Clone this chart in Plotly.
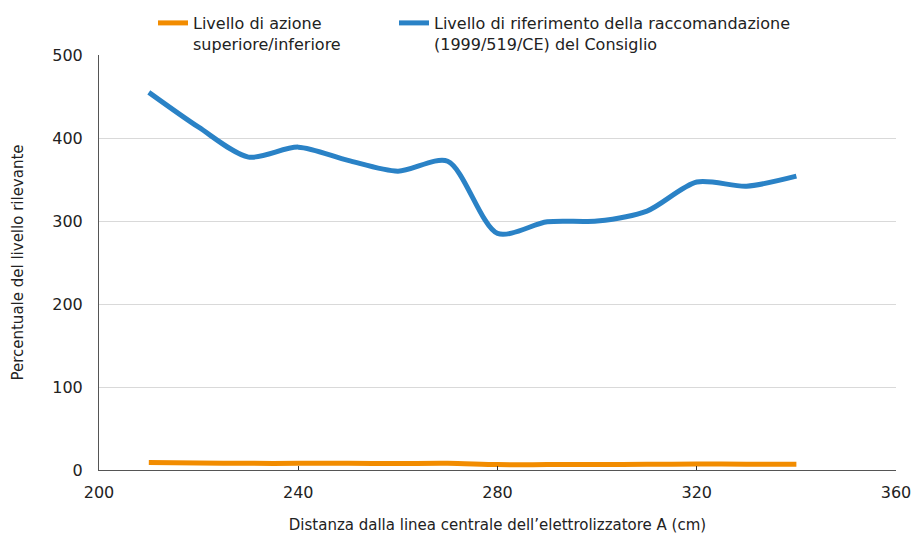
import plotly.graph_objects as go

distanza = [210, 220, 230, 240, 250, 260, 270, 280, 290, 300, 310, 320, 330, 340]
livello_azione = [9, 8.5, 8, 8, 8, 7.8, 8, 6.5, 6.5, 6.5, 6.8, 7.2, 7, 7]
livello_riferimento = [455, 413, 377, 389, 373, 360, 372, 285, 299, 300, 312, 347, 342, 354]

x_ticks = [200, 240, 280, 320, 360]
y_ticks = [0, 100, 200, 300, 400, 500]

fig = go.Figure()
fig.add_trace(go.Scatter(
    x=distanza, y=livello_azione, mode="lines",
    name="Livello di azione<br>superiore/inferiore",
    line=dict(color="#F28C00", width=5, shape="spline", smoothing=0.8),
    legend="legend",
))
fig.add_trace(go.Scatter(
    x=distanza, y=livello_riferimento, mode="lines",
    name="Livello di riferimento della raccomandazione<br>(1999/519/CE) del Consiglio",
    line=dict(color="#2A82C6", width=5, shape="spline", smoothing=0.8),
    legend="legend2",
))

legend_common = dict(
    orientation="h", xanchor="left",
    xref="container", yref="container", y=1 - 6 / 534, yanchor="top",
    font=dict(family="DejaVu Sans", size=16, color="#222222"),
    valign="top", bgcolor="rgba(0,0,0,0)",
)

fig.update_layout(
    width=913, height=534,
    margin=dict(l=99, r=17, t=55, b=64, autoexpand=False),
    paper_bgcolor="white", plot_bgcolor="white",
    font=dict(family="DejaVu Sans", size=15, color="#222222"),
    showlegend=True,
    legend=dict(x=153 / 913, **legend_common),
    legend2=dict(x=394 / 913, **legend_common),
    xaxis=dict(
        range=[200, 360], tickvals=x_ticks, ticktext=[str(v) for v in x_ticks],
        showgrid=False, zeroline=False, automargin=False,
        showline=True, linecolor="#555555", linewidth=1,
        ticks="inside", ticklen=4, tickcolor="#333333",
        tickfont=dict(family="DejaVu Sans", size=16, color="#222222"),
        title=dict(text="Distanza dalla linea centrale dell’elettrolizzatore A (cm)",
                   font=dict(family="DejaVu Sans", size=15, color="#222222"), standoff=18),
        ticklabelstandoff=8,
    ),
    yaxis=dict(
        range=[0, 500], tickvals=y_ticks, ticktext=[str(v) for v in y_ticks],
        showgrid=True, gridcolor="#d9d9d9", gridwidth=1, zeroline=False, automargin=False,
        showline=True, linecolor="#555555", linewidth=1,
        ticks="",
        tickfont=dict(family="DejaVu Sans", size=16, color="#222222"),
        title=dict(text="Percentuale del livello rilevante",
                   font=dict(family="DejaVu Sans", size=15, color="#222222"), standoff=25),
        ticklabelstandoff=12,
    ),
)

fig.write_html("out.html", config={"displayModeBar": False},
               post_script="document.body.style.margin='0px';")
